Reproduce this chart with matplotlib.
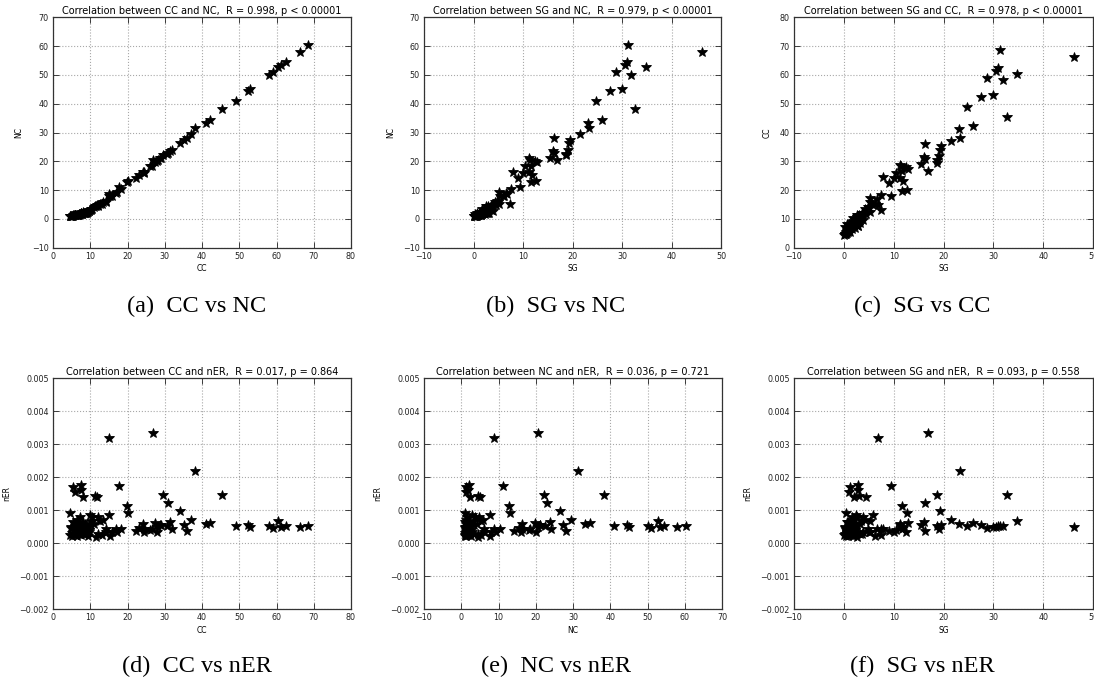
import matplotlib
matplotlib.use("Agg")
import matplotlib.pyplot as plt
from matplotlib.ticker import FuncFormatter, MultipleLocator

# one entry per observation: CC, NC, SG, nER
CC = [68.5, 66.2, 62.5, 61.3, 60.4, 59.0, 58.1, 53.0, 52.4, 49.0,
      45.3, 42.2, 41.2, 38.2, 37.1, 36.1, 35.2, 34.0, 32.0, 31.5,
      30.8, 30.5, 29.5, 29.0, 28.7, 28.2, 28.0, 27.5, 26.8, 26.5,
      26.0, 24.4, 24.3, 24.2, 23.2, 22.3, 20.1, 19.8, 18.2, 17.8,
      17.3, 16.8, 15.9, 15.3, 15.0, 14.9, 14.2, 14.1, 13.5, 13.2,
      12.2, 12.0, 11.7, 11.2, 10.9, 10.5, 10.1, 9.9, 9.6, 9.4,
      9.2, 9.0, 8.8, 8.6, 8.4, 8.2, 8.0, 7.9, 7.7, 7.6,
      7.5, 7.4, 7.3, 7.1, 7.0, 6.8, 6.7, 6.5, 6.4, 6.2,
      6.0, 5.9, 5.8, 5.6, 5.5, 5.4, 5.2, 5.0, 4.9, 4.7,
      4.6, 4.5, 8.5, 9.7, 10.3, 6.9, 12.5, 11.5, 7.2, 8.1]
NC = [60.3, 58.0, 54.5, 53.3, 52.7, 51.0, 50.1, 45.0, 44.5, 41.0,
      38.2, 34.5, 33.3, 31.4, 29.5, 28.0, 27.3, 26.5, 24.0, 23.7,
      23.0, 22.5, 22.2, 21.2, 21.2, 20.5, 20.0, 19.9, 20.5, 18.5,
      18.2, 16.3, 16.1, 16.3, 15.4, 14.1, 13.0, 12.8, 10.4, 11.1,
      9.3, 8.9, 8.0, 7.8, 7.8, 8.7, 6.2, 6.0, 5.8, 5.2,
      4.8, 4.6, 5.0, 4.6, 4.2, 3.6, 3.2, 3.0, 2.7, 2.5,
      2.4, 2.2, 2.1, 2.0, 2.0, 1.9, 2.3, 1.8, 1.7, 1.9,
      1.7, 2.0, 1.6, 1.6, 1.5, 1.5, 1.4, 1.4, 1.3, 1.3,
      1.3, 1.2, 1.2, 1.2, 1.3, 1.1, 1.1, 1.1, 1.0, 1.0,
      1.0, 1.0, 2.2, 2.9, 3.4, 1.6, 5.2, 4.4, 1.8, 2.1]
SG = [31.3, 46.1, 31.0, 30.6, 34.8, 28.7, 31.9, 29.9, 27.6, 24.8,
      32.7, 26.0, 23.1, 23.3, 21.6, 16.3, 19.4, 19.2, 19.0, 16.0,
      16.3, 18.6, 18.7, 15.5, 11.3, 11.5, 12.4, 12.8, 16.9, 11.7,
      10.5, 7.9, 10.1, 11.2, 11.9, 9.0, 12.7, 11.6, 7.5, 9.4,
      5.2, 6.6, 5.3, 6.2, 5.9, 6.8, 4.8, 5.0, 4.3, 7.4,
      3.8, 3.6, 4.5, 3.0, 3.3, 2.6, 3.5, 2.4, 2.2, 1.9,
      2.8, 2.0, 1.6, 2.5, 1.5, 2.2, 2.0, 1.8, 1.4, 2.9,
      1.2, 2.8, 1.7, 1.1, 1.5, 0.9, 1.3, 0.8, 1.6, 0.7,
      1.0, 0.6, 1.0, 0.5, 1.2, 0.8, 0.4, 0.6, 0.3, 0.2,
      0.5, 0.1, 3.2, 3.9, 1.8, 2.3, 5.2, 2.6, 0.3, 0.7]
nER = [0.00052, 0.00048, 0.00053, 0.00049, 0.00068, 0.00045, 0.00053, 0.00048, 0.00055, 0.00053,
       0.00145, 0.00063, 0.00058, 0.00220, 0.00072, 0.00037, 0.00055, 0.00098, 0.00042, 0.00066,
       0.00122, 0.00052, 0.00147, 0.00055, 0.00055, 0.00050, 0.00033, 0.00062, 0.00335, 0.00042,
       0.00040, 0.00042, 0.00035, 0.00058, 0.00045, 0.00038, 0.00091, 0.00113, 0.00043, 0.00175,
       0.00033, 0.00043, 0.00035, 0.00023, 0.00087, 0.00320, 0.00043, 0.00033, 0.00070, 0.00024,
       0.00080, 0.00028, 0.00141, 0.00143, 0.00057, 0.00080, 0.00069, 0.00085, 0.00040, 0.00022,
       0.00030, 0.00048, 0.00035, 0.00060, 0.00027, 0.00040, 0.00140, 0.00032, 0.00055, 0.00160,
       0.00025, 0.00177, 0.00080, 0.00038, 0.00062, 0.00030, 0.00048, 0.00022, 0.00070, 0.00035,
       0.00058, 0.00026, 0.00155, 0.00040, 0.00170, 0.00065, 0.00022, 0.00032, 0.00050, 0.00045,
       0.00091, 0.00024, 0.00028, 0.00033, 0.00055, 0.00042, 0.00068, 0.00020, 0.00028, 0.00065]

W, H = 1094, 683
fig = plt.figure(figsize=(W / 100, H / 100), dpi=100)

def minus(fmt):
    return FuncFormatter(lambda v, p: (fmt % v).replace("-", "\u2212"))

def panel(box, x, y, xname, yname, title, xlim, ylim, xstep, ystep, yfmt="%d"):
    l, t, r, b = box
    ax = fig.add_axes([l / W, 1 - b / H, (r - l) / W, (b - t) / H])
    ax.plot(x, y, "k*", markersize=7, markeredgewidth=0.6)
    ax.set_xlim(*xlim)
    ax.set_ylim(*ylim)
    ax.xaxis.set_major_locator(MultipleLocator(xstep))
    ax.yaxis.set_major_locator(MultipleLocator(ystep))
    ax.xaxis.set_major_formatter(minus("%d"))
    ax.yaxis.set_major_formatter(minus(yfmt))
    ax.tick_params(direction="in", top=True, right=True, length=4, width=0.6,
                   labelsize=5.8, pad=3, colors="#222222")
    ax.grid(True, color="#a8a8a8", linestyle=":", linewidth=0.8)
    for s in ax.spines.values():
        s.set_linewidth(0.9)
        s.set_color("#333333")
    ax.set_xlabel(xname, fontsize=5.5, labelpad=2.5)
    ax.set_ylabel(yname, fontsize=5.5, labelpad=6)
    ax.set_title(title, fontsize=7, pad=2.5)
    return ax

top1 = (17.3, 247.7)
top2 = (378.3, 609.3)
cols = [(53, 351), (424, 721), (794, 1093)]

panel((cols[0][0], top1[0], cols[0][1], top1[1]), CC, NC, "CC", "NC",
      "Correlation between CC and NC,  R = 0.998, p < 0.00001", (0, 80), (-10, 70), 10, 10)
panel((cols[1][0], top1[0], cols[1][1], top1[1]), SG, NC, "SG", "NC",
      "Correlation between SG and NC,  R = 0.979, p < 0.00001", (-10, 50), (-10, 70), 10, 10)
panel((cols[2][0], top1[0], cols[2][1], top1[1]), SG, CC, "SG", "CC",
      "Correlation between SG and CC,  R = 0.978, p < 0.00001", (-10, 50), (0, 80), 10, 10)
panel((cols[0][0], top2[0], cols[0][1], top2[1]), CC, nER, "CC", "nER",
      "Correlation between CC and nER,  R = 0.017, p = 0.864", (0, 80), (-0.002, 0.005), 10, 0.001, "%.3f")
panel((cols[1][0], top2[0], 722, top2[1]), NC, nER, "NC", "nER",
      "Correlation between NC and nER,  R = 0.036, p = 0.721", (-10, 70), (-0.002, 0.005), 10, 0.001, "%.3f")
panel((cols[2][0], top2[0], cols[2][1], top2[1]), SG, nER, "SG", "nER",
      "Correlation between SG and nER,  R = 0.093, p = 0.558", (-10, 50), (-0.002, 0.005), 10, 0.001, "%.3f")

captions = ["(a)  CC vs NC", "(b)  SG vs NC", "(c)  SG vs CC",
            "(d)  CC vs nER", "(e)  NC vs nER", "(f)  SG vs nER"]
cap_x = [197, 556, 922]
cap_y = [306, 666]
for i, c in enumerate(captions):
    fig.text(cap_x[i % 3] / W, 1 - cap_y[i // 3] / H, c, ha="center", va="center",
             fontsize=17.5, family="Liberation Serif")

fig.savefig("out.png", dpi=100)
